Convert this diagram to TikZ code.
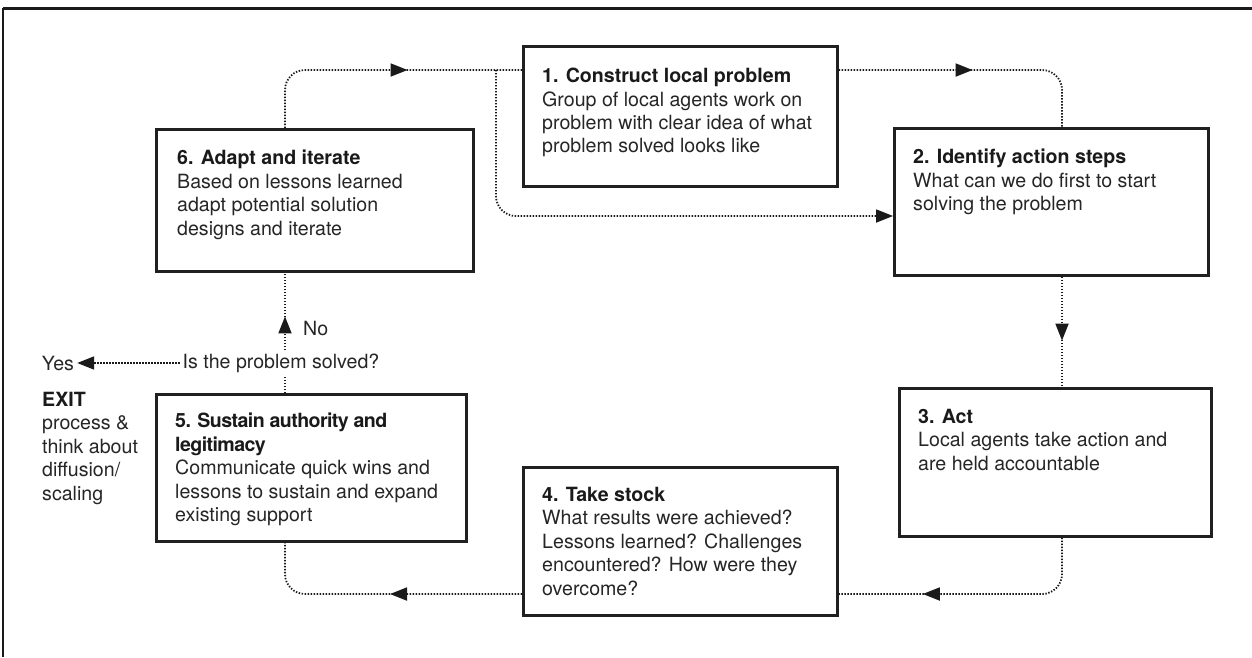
\documentclass[tikz,border=0pt]{standalone}
\usepackage{fontspec}
\setmainfont{TeX Gyre Heros}
\usetikzlibrary{arrows.meta,decorations.markings,calc}

\definecolor{ink}{HTML}{1A1A1A}
\definecolor{bodyink}{HTML}{262626}
\definecolor{boxline}{HTML}{202020}

\tikzset{
  panel/.style={draw=boxline, line width=2.6pt, anchor=north west, inner sep=0pt, fill=white},
  boxtext/.style={anchor=north west, align=left, inner sep=0pt, text=bodyink,
                  font=\fontsize{19.6}{23.4}\selectfont},
  plaintext/.style={inner sep=3pt, text=bodyink, font=\fontsize{19.6}{23.4}\selectfont},
  flow/.style={draw=ink, line width=1.8pt, dash pattern=on 1.4pt off 1.6pt, rounded corners=20pt},
  endhead/.style={-{Triangle[length=17pt,width=13pt]}},
  midhead/.style={postaction={decorate}, decoration={markings,
      mark=at position #1 with {\arrow{Triangle[length=17pt,width=13pt]}}}},
}

\begin{document}
\begin{tikzpicture}[x=1pt, y=-1pt]
\useasboundingbox (0,0) rectangle (1252,657);

% outer frame: top and left edges
\draw[line width=3pt, ink] (1252,8) -- (3,8);
\draw[line width=2pt, ink] (3,8) -- (3,657);

% guide coordinates for the connector runs
\coordinate (axis) at (285,0);
\coordinate (rx)   at (1062,0);
\coordinate (top)  at (0,70);
\coordinate (low)  at (0,594);
\coordinate (mid)  at (0,216);

% step boxes
\node[panel, minimum width=314pt, minimum height=140pt] (b1) at (522,45) {};
\node[panel, minimum width=314pt, minimum height=147pt] (b2) at (893,127) {};
\node[panel, minimum width=312pt, minimum height=148pt] (b3) at (898,387) {};
\node[panel, minimum width=314pt, minimum height=148pt] (b4) at (522,466) {};
\node[panel, minimum width=310pt, minimum height=147pt] (b5) at (155,393) {};
\node[panel, minimum width=317pt, minimum height=142pt] (b6) at (155,128) {};

% step texts
\node[boxtext] (t1) at ($(b1.north west)+(20,23)$)
  {\textbf{\color{ink}1. Construct local problem}\\Group of local agents work on\\problem with clear idea of what\\problem solved looks like};
\node[boxtext] (t2) at ($(b2.north west)+(20,22)$)
  {\textbf{\color{ink}2. Identify action steps}\\What can we do first to start\\solving the problem};
\node[boxtext] (t3) at ($(b3.north west)+(20,22)$)
  {\textbf{\color{ink}3. Act}\\Local agents take action and\\are held accountable};
\node[boxtext] (t4) at ($(b4.north west)+(20,21)$)
  {\textbf{\color{ink}4. Take stock}\\What results were achieved?\\Lessons learned? Challenges\\encountered? How were they\\overcome?};
\node[boxtext] (t5) at ($(b5.north west)+(20,20)$)
  {{\addfontfeature{LetterSpace=-3}\textbf{\color{ink}5. Sustain authority and}}\\{\addfontfeature{LetterSpace=-3}\textbf{\color{ink}legitimacy}}\\Communicate quick wins and\\lessons to sustain and expand\\existing support};
\node[boxtext] (t6) at ($(b6.north west)+(22,22)$)
  {\textbf{\color{ink}6. Adapt and iterate}\\Based on lessons learned\\adapt potential solution\\designs and iterate};

% decision and exit labels
\node[plaintext] (q)   at (281,363) {Is the problem solved?};
\node[plaintext] (yes) at (58,363) {Yes};
\node[plaintext, anchor=west] (no) at (300,328) {No};
\node[boxtext] (exit) at (42,392)
  {\textbf{\color{ink}EXIT}\\process \&\\think about\\diffusion/\\scaling};

% connectors
\draw[flow, midhead=172pt] (b6.north -| axis) |- (b1.west |- top);
\coordinate (br) at (496,70);
\draw[flow, endhead] (br) |- (b2.west |- mid);
\draw[flow, midhead=134pt] (b1.east |- top) -| (b2.north -| rx);
\draw[flow, midhead=64pt] (b2.south -| rx) -- (b3.north -| rx);
\draw[flow, midhead=187pt] (b3.south -| rx) |- (b4.east |- low);
\draw[flow, midhead=132pt] (b4.west |- low) -| (b5.south -| axis);
\draw[flow] (b5.north -| axis) -- (q.south -| axis);
\draw[flow, midhead=34pt] (q.north -| axis) -- (b6.south -| axis);
\draw[flow, endhead] (q.west) -- (yes.east);
\end{tikzpicture}
\end{document}
